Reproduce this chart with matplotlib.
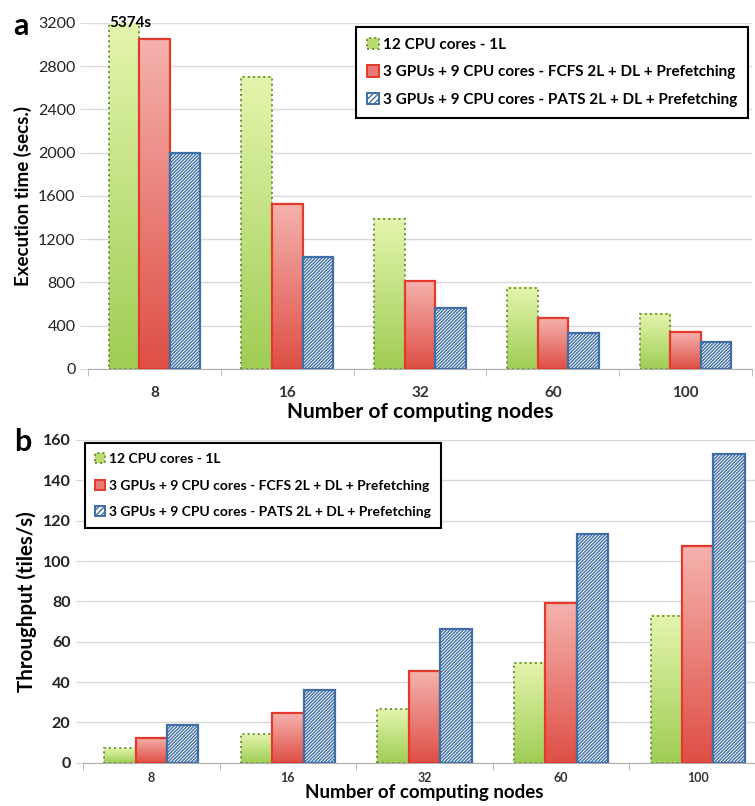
import numpy as np
import matplotlib
matplotlib.use("Agg")
from matplotlib import pyplot as plt
from matplotlib.patches import Patch
from matplotlib.colors import LinearSegmentedColormap

plt.rcParams['font.family'] = ['Lato', 'DejaVu Sans']
plt.rcParams['hatch.linewidth'] = 1.0

nodes = ['8', '16', '32', '60', '100']
series = ['12 CPU cores - 1L',
          '3 GPUs + 9 CPU cores - FCFS 2L + DL + Prefetching',
          '3 GPUs + 9 CPU cores - PATS 2L + DL + Prefetching']

# execution time (secs.)
time_cpu = [5374, 2700, 1390, 750, 510]
time_fcfs = [3050, 1525, 815, 470, 340]
time_pats = [2000, 1035, 560, 330, 245]

# throughput (tiles/s)
tput_cpu = [7.1, 14.0, 26.6, 49.6, 72.9]
tput_fcfs = [12.4, 24.5, 45.5, 79.0, 107.6]
tput_pats = [18.7, 36.0, 66.3, 113.2, 152.9]

green_cm = LinearSegmentedColormap.from_list('g', ['#e4f5ad', '#9fcd55'])
red_cm = LinearSegmentedColormap.from_list('r', ['#f5b2ae', '#de4f45'])
green_edge = '#6f8f3a'
red_edge = '#e5392c'
blue_edge = '#3f6fa6'

W = 0.23


def gradient_bars(ax, x, vals, cmap, edge, ls, lw, top):
    bars = ax.bar(x, vals, W, facecolor='none', edgecolor=edge,
                  linestyle=ls, linewidth=lw, zorder=3)
    grad = np.linspace(0, 1, 128).reshape(-1, 1)
    for b in bars:
        x0 = b.get_x()
        h = min(b.get_height(), top)
        ax.imshow(grad, cmap=cmap, extent=[x0, x0 + b.get_width(), 0, h],
                  origin='upper', aspect='auto', zorder=2, clip_on=True)
    return bars


def panel(ax, cpu, fcfs, pats, top, step, leg_anchor, leg_loc, tick_fs,
          tick_weight, tick_pad, xl_fs, yl_fs, leg_fs, leg_space, ylabel):
    x = np.arange(len(nodes))
    gradient_bars(ax, x - W, cpu, green_cm, green_edge, ':', 1.4, top)
    gradient_bars(ax, x, fcfs, red_cm, red_edge, '-', 1.6, top)
    ax.bar(x + W, pats, W, facecolor='white', edgecolor=blue_edge,
           hatch='//////////', linewidth=1.6, zorder=3)
    ax.set_xlim(-0.5, len(nodes) - 0.5)
    ax.set_ylim(0, top)
    ax.set_yticks(np.arange(0, top + 1, step))
    ax.grid(axis='y', color='#d9d9d9', linewidth=1.0, zorder=0)
    ax.set_axisbelow(True)
    for s in ['top', 'right', 'left']:
        ax.spines[s].set_visible(False)
    ax.spines['bottom'].set_color('#b0b0b0')
    ax.set_xticks(x)
    ax.set_xticklabels(nodes, fontsize=tick_fs, fontweight='bold', color='#333333')
    ax.set_xticks(np.arange(-0.5, len(nodes)), minor=True)
    ax.tick_params(axis='x', which='major', length=0, pad=tick_pad)
    ax.tick_params(axis='x', which='minor', length=5, color='#b0b0b0')
    ax.tick_params(axis='y', length=6, color='#d9d9d9', labelsize=11.5, pad=3)
    for t in ax.get_yticklabels():
        t.set_fontweight(tick_weight)
        t.set_color('#222222')
    ax.set_ylabel(ylabel, fontsize=yl_fs, fontweight='bold', labelpad=4)
    ax.set_xlabel('Number of computing nodes', fontsize=xl_fs, fontweight='bold', labelpad=2)
    handles = [Patch(facecolor='#b8dc72', edgecolor=green_edge, linestyle=':', linewidth=1.4),
               Patch(facecolor='#ea7a72', edgecolor=red_edge, linewidth=1.4),
               Patch(facecolor='white', edgecolor=blue_edge, hatch='//////', linewidth=1.4)]
    leg = ax.legend(handles, series, loc=leg_loc, bbox_to_anchor=leg_anchor,
                    fancybox=False, edgecolor='black', framealpha=1,
                    prop={'weight': 'bold', 'size': leg_fs}, handlelength=0.75,
                    handleheight=0.75, handletextpad=0.3, labelspacing=leg_space,
                    borderpad=0.7, borderaxespad=0)
    leg.get_frame().set_linewidth(1.5)
    return ax


fig = plt.figure(figsize=(7.55, 8.06), dpi=100)
ax1 = fig.add_axes([0.1166, 0.5422, 0.8795, 0.4296])
ax2 = fig.add_axes([0.1099, 0.0537, 0.9046, 0.4004])

panel(ax1, time_cpu, time_fcfs, time_pats, 3200, 400, (0.994, 0.988), 'upper right',
      11, 'normal', 12, 15, 13.5, 11, 0.9, 'Execution time (secs.)')
panel(ax2, tput_cpu, tput_fcfs, tput_pats, 160, 20, (0.003, 0.99), 'upper left',
      9, 'bold', 7, 13.5, 14.8, 10, 1.05, 'Throughput (tiles/s)')
ax2.xaxis.labelpad = 0

# first CPU bar goes past the axis top, so write its value
ax1.text(0 - W + 0.05, 3200, '%ds' % time_cpu[0], ha='center', va='center',
         fontsize=11, fontweight='bold', zorder=5)

fig.text(0.017, 0.956, 'a', fontsize=22, fontweight='bold', va='baseline')
fig.text(0.019, 0.440, 'b', fontsize=22, fontweight='bold', va='baseline')

fig.savefig('out.png', dpi=100)
